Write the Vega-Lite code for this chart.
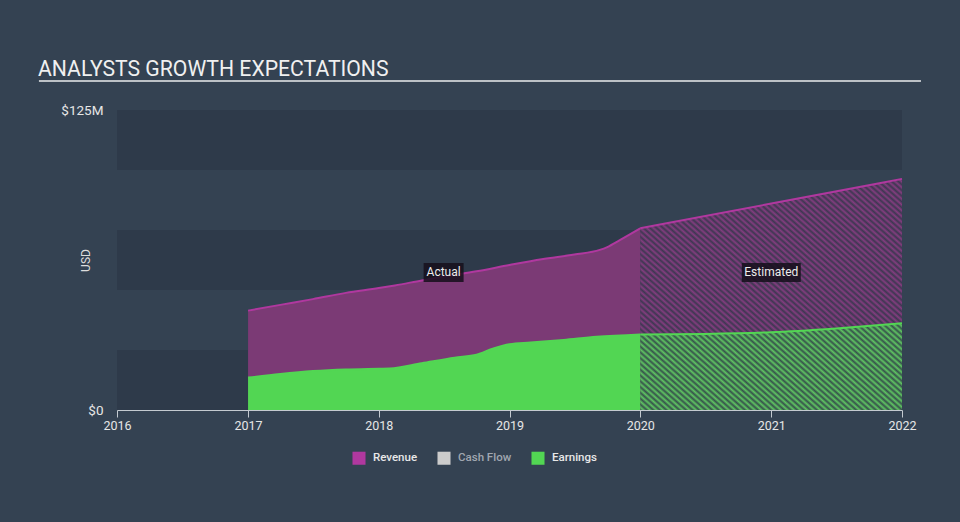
{
  "$schema": "https://vega.github.io/schema/vega-lite/v6.json",
  "autosize": {"type": "none"},
  "width": 785,
  "height": 300,
  "padding": {"left": 117, "top": 110, "right": 58, "bottom": 112},
  "background": "#344252",
  "config": {
    "view": {"stroke": null},
    "font": "Roboto"
  },
  "title": {
    "text": "ANALYSTS GROWTH EXPECTATIONS",
    "anchor": "start",
    "frame": "group",
    "dx": -79,
    "dy": 44,
    "offset": 27,
    "fontSize": 21.2,
    "fontWeight": "normal",
    "color": "#f0f0f0",
    "baseline": "alphabetic"
  },
  "datasets": {
    "bands": [
      {"lo": 0, "hi": 25},
      {"lo": 50, "hi": 75},
      {"lo": 100, "hi": 125}
    ],
    "series": [
      {"date": "2017-01-01", "value": 41.4, "series": "Revenue", "phase": "Actual"},
      {"date": "2017-04-01", "value": 43.8, "series": "Revenue", "phase": "Actual"},
      {"date": "2017-07-01", "value": 46.2, "series": "Revenue", "phase": "Actual"},
      {"date": "2017-10-01", "value": 48.8, "series": "Revenue", "phase": "Actual"},
      {"date": "2018-01-01", "value": 50.8, "series": "Revenue", "phase": "Actual"},
      {"date": "2018-02-15", "value": 51.9, "series": "Revenue", "phase": "Actual"},
      {"date": "2018-05-01", "value": 54.0, "series": "Revenue", "phase": "Actual"},
      {"date": "2018-07-01", "value": 55.6, "series": "Revenue", "phase": "Actual"},
      {"date": "2018-10-01", "value": 57.8, "series": "Revenue", "phase": "Actual"},
      {"date": "2019-01-01", "value": 60.4, "series": "Revenue", "phase": "Actual"},
      {"date": "2019-04-01", "value": 62.8, "series": "Revenue", "phase": "Actual"},
      {"date": "2019-07-01", "value": 64.8, "series": "Revenue", "phase": "Actual"},
      {"date": "2019-09-10", "value": 66.7, "series": "Revenue", "phase": "Actual"},
      {"date": "2019-10-01", "value": 67.9, "series": "Revenue", "phase": "Actual"},
      {"date": "2019-11-05", "value": 70.8, "series": "Revenue", "phase": "Actual"},
      {"date": "2020-01-01", "value": 75.7, "series": "Revenue", "phase": "Actual"},
      {"date": "2020-01-01", "value": 75.7, "series": "Revenue", "phase": "Estimated"},
      {"date": "2021-01-01", "value": 86.0, "series": "Revenue", "phase": "Estimated"},
      {"date": "2022-01-01", "value": 96.3, "series": "Revenue", "phase": "Estimated"},
      {"date": "2017-01-01", "value": 13.5, "series": "Earnings", "phase": "Actual"},
      {"date": "2017-04-01", "value": 15.0, "series": "Earnings", "phase": "Actual"},
      {"date": "2017-07-01", "value": 16.2, "series": "Earnings", "phase": "Actual"},
      {"date": "2017-10-01", "value": 16.9, "series": "Earnings", "phase": "Actual"},
      {"date": "2018-01-01", "value": 17.2, "series": "Earnings", "phase": "Actual"},
      {"date": "2018-02-01", "value": 17.3, "series": "Earnings", "phase": "Actual"},
      {"date": "2018-05-01", "value": 19.5, "series": "Earnings", "phase": "Actual"},
      {"date": "2018-08-01", "value": 21.8, "series": "Earnings", "phase": "Actual"},
      {"date": "2018-10-01", "value": 23.0, "series": "Earnings", "phase": "Actual"},
      {"date": "2018-11-15", "value": 25.5, "series": "Earnings", "phase": "Actual"},
      {"date": "2019-01-01", "value": 27.4, "series": "Earnings", "phase": "Actual"},
      {"date": "2019-03-01", "value": 28.1, "series": "Earnings", "phase": "Actual"},
      {"date": "2019-06-01", "value": 29.2, "series": "Earnings", "phase": "Actual"},
      {"date": "2019-09-01", "value": 30.5, "series": "Earnings", "phase": "Actual"},
      {"date": "2020-01-01", "value": 31.5, "series": "Earnings", "phase": "Actual"},
      {"date": "2020-01-01", "value": 31.5, "series": "Earnings", "phase": "Estimated"},
      {"date": "2020-07-01", "value": 31.7, "series": "Earnings", "phase": "Estimated"},
      {"date": "2021-01-01", "value": 32.4, "series": "Earnings", "phase": "Estimated"},
      {"date": "2021-07-01", "value": 34.0, "series": "Earnings", "phase": "Estimated"},
      {"date": "2022-01-01", "value": 36.1, "series": "Earnings", "phase": "Estimated"}
    ],
    "notes": [
      {"label": "Actual", "date": "2018-07-01", "value": 57.3},
      {"label": "Estimated", "date": "2021-01-01", "value": 57.3}
    ],
    "rule": [
      {"date": "2015-05-28", "date2": "2022-02-23", "value": 137.1}
    ]
  },
  "layer": [
    {
      "data": {"name": "bands"},
      "mark": {"type": "rect", "fill": "#2e3a4a"},
      "encoding": {
        "y": {
          "field": "lo", "type": "quantitative", "title": "USD",
          "scale": {"domain": [0, 125], "nice": false, "zero": true},
          "axis": {
            "values": [0, 125],
            "labelExpr": "datum.value == 0 ? '$0' : '$' + datum.value + 'M'",
            "labelColor": "#e6e6e6",
            "labelFontSize": 13.5,
            "labelPadding": 14,
            "ticks": false,
            "domain": false,
            "grid": false,
            "titleColor": "#dddddd",
            "titleFontSize": 12,
            "titleFontWeight": "normal",
            "titleX": -28,
            "titleY": 150,
            "titleAngle": -90,
            "titleAlign": "center",
            "titleBaseline": "alphabetic"
          }
        },
        "y2": {"field": "hi"}
      }
    },
    {
      "data": {"name": "series"},
      "transform": [{"filter": "datum.series === 'Revenue' && datum.phase === 'Actual'"}],
      "mark": {"type": "area", "interpolate": "monotone", "fill": "#7b3a75"},
      "encoding": {
        "x": {
          "field": "date", "type": "temporal", "title": null,
          "scale": {"type": "utc", "domain": [{"year": 2016, "month": 1, "date": 1, "utc": true}, {"year": 2022, "month": 1, "date": 1, "utc": true}]},
          "axis": {
            "values": [
              {"year": 2016, "month": 1, "date": 1, "utc": true},
              {"year": 2017, "month": 1, "date": 1, "utc": true},
              {"year": 2018, "month": 1, "date": 1, "utc": true},
              {"year": 2019, "month": 1, "date": 1, "utc": true},
              {"year": 2020, "month": 1, "date": 1, "utc": true},
              {"year": 2021, "month": 1, "date": 1, "utc": true},
              {"year": 2022, "month": 1, "date": 1, "utc": true}
            ],
            "format": "%Y",
            "labelColor": "#e6e6e6",
            "labelFontSize": 12.5,
            "labelPadding": 2,
            "domainColor": "#c4cad0",
            "tickColor": "#c4cad0",
            "tickSize": 7,
            "grid": false,
            "labelFlush": false
          }
        },
        "y": {"field": "value", "type": "quantitative", "title": "USD"}
      }
    },
    {
      "data": {"name": "series"},
      "transform": [{"filter": "datum.series === 'Revenue' && datum.phase === 'Estimated'"}],
      "mark": {"type": "area", "interpolate": "monotone", "fill": "#833d7f"},
      "encoding": {
        "x": {"field": "date", "type": "temporal", "title": null},
        "y": {"field": "value", "type": "quantitative", "title": "USD"}
      }
    },
    {
      "data": {"name": "series"},
      "transform": [{"filter": "datum.series === 'Earnings' && datum.phase === 'Actual'"}],
      "mark": {"type": "area", "interpolate": "monotone", "fill": "#52d653"},
      "encoding": {
        "x": {"field": "date", "type": "temporal", "title": null},
        "y": {"field": "value", "type": "quantitative", "title": "USD"}
      }
    },
    {
      "data": {"name": "series"},
      "transform": [{"filter": "datum.series === 'Earnings' && datum.phase === 'Estimated'"}],
      "mark": {"type": "area", "interpolate": "monotone", "fill": "#5fc462"},
      "encoding": {
        "x": {"field": "date", "type": "temporal", "title": null},
        "y": {"field": "value", "type": "quantitative", "title": "USD"}
      }
    },
    {
      "data": {"name": "series"},
      "transform": [{"filter": "datum.series === 'Revenue' && datum.phase === 'Estimated'"}],
      "mark": {
        "type": "area",
        "interpolate": "monotone",
        "fill": {
          "gradient": "linear",
          "x1": 0, "y1": 1, "x2": 1, "y2": 0,
          "stops": [
            {"offset": 0, "color": "rgba(44,54,70,0.8)"}, {"offset": 0.00625, "color": "rgba(44,54,70,0)"}, {"offset": 0.0125, "color": "rgba(44,54,70,0.8)"}, {"offset": 0.01875, "color": "rgba(44,54,70,0)"}, {"offset": 0.025, "color": "rgba(44,54,70,0.8)"}, {"offset": 0.03125, "color": "rgba(44,54,70,0)"}, {"offset": 0.0375, "color": "rgba(44,54,70,0.8)"}, {"offset": 0.04375, "color": "rgba(44,54,70,0)"},
            {"offset": 0.05, "color": "rgba(44,54,70,0.8)"}, {"offset": 0.05625, "color": "rgba(44,54,70,0)"}, {"offset": 0.0625, "color": "rgba(44,54,70,0.8)"}, {"offset": 0.06875, "color": "rgba(44,54,70,0)"}, {"offset": 0.075, "color": "rgba(44,54,70,0.8)"}, {"offset": 0.08125, "color": "rgba(44,54,70,0)"}, {"offset": 0.0875, "color": "rgba(44,54,70,0.8)"}, {"offset": 0.09375, "color": "rgba(44,54,70,0)"},
            {"offset": 0.1, "color": "rgba(44,54,70,0.8)"}, {"offset": 0.10625, "color": "rgba(44,54,70,0)"}, {"offset": 0.1125, "color": "rgba(44,54,70,0.8)"}, {"offset": 0.11875, "color": "rgba(44,54,70,0)"}, {"offset": 0.125, "color": "rgba(44,54,70,0.8)"}, {"offset": 0.13125, "color": "rgba(44,54,70,0)"}, {"offset": 0.1375, "color": "rgba(44,54,70,0.8)"}, {"offset": 0.14375, "color": "rgba(44,54,70,0)"},
            {"offset": 0.15, "color": "rgba(44,54,70,0.8)"}, {"offset": 0.15625, "color": "rgba(44,54,70,0)"}, {"offset": 0.1625, "color": "rgba(44,54,70,0.8)"}, {"offset": 0.16875, "color": "rgba(44,54,70,0)"}, {"offset": 0.175, "color": "rgba(44,54,70,0.8)"}, {"offset": 0.18125, "color": "rgba(44,54,70,0)"}, {"offset": 0.1875, "color": "rgba(44,54,70,0.8)"}, {"offset": 0.19375, "color": "rgba(44,54,70,0)"},
            {"offset": 0.2, "color": "rgba(44,54,70,0.8)"}, {"offset": 0.20625, "color": "rgba(44,54,70,0)"}, {"offset": 0.2125, "color": "rgba(44,54,70,0.8)"}, {"offset": 0.21875, "color": "rgba(44,54,70,0)"}, {"offset": 0.225, "color": "rgba(44,54,70,0.8)"}, {"offset": 0.23125, "color": "rgba(44,54,70,0)"}, {"offset": 0.2375, "color": "rgba(44,54,70,0.8)"}, {"offset": 0.24375, "color": "rgba(44,54,70,0)"},
            {"offset": 0.25, "color": "rgba(44,54,70,0.8)"}, {"offset": 0.25625, "color": "rgba(44,54,70,0)"}, {"offset": 0.2625, "color": "rgba(44,54,70,0.8)"}, {"offset": 0.26875, "color": "rgba(44,54,70,0)"}, {"offset": 0.275, "color": "rgba(44,54,70,0.8)"}, {"offset": 0.28125, "color": "rgba(44,54,70,0)"}, {"offset": 0.2875, "color": "rgba(44,54,70,0.8)"}, {"offset": 0.29375, "color": "rgba(44,54,70,0)"},
            {"offset": 0.3, "color": "rgba(44,54,70,0.8)"}, {"offset": 0.30625, "color": "rgba(44,54,70,0)"}, {"offset": 0.3125, "color": "rgba(44,54,70,0.8)"}, {"offset": 0.31875, "color": "rgba(44,54,70,0)"}, {"offset": 0.325, "color": "rgba(44,54,70,0.8)"}, {"offset": 0.33125, "color": "rgba(44,54,70,0)"}, {"offset": 0.3375, "color": "rgba(44,54,70,0.8)"}, {"offset": 0.34375, "color": "rgba(44,54,70,0)"},
            {"offset": 0.35, "color": "rgba(44,54,70,0.8)"}, {"offset": 0.35625, "color": "rgba(44,54,70,0)"}, {"offset": 0.3625, "color": "rgba(44,54,70,0.8)"}, {"offset": 0.36875, "color": "rgba(44,54,70,0)"}, {"offset": 0.375, "color": "rgba(44,54,70,0.8)"}, {"offset": 0.38125, "color": "rgba(44,54,70,0)"}, {"offset": 0.3875, "color": "rgba(44,54,70,0.8)"}, {"offset": 0.39375, "color": "rgba(44,54,70,0)"},
            {"offset": 0.4, "color": "rgba(44,54,70,0.8)"}, {"offset": 0.40625, "color": "rgba(44,54,70,0)"}, {"offset": 0.4125, "color": "rgba(44,54,70,0.8)"}, {"offset": 0.41875, "color": "rgba(44,54,70,0)"}, {"offset": 0.425, "color": "rgba(44,54,70,0.8)"}, {"offset": 0.43125, "color": "rgba(44,54,70,0)"}, {"offset": 0.4375, "color": "rgba(44,54,70,0.8)"}, {"offset": 0.44375, "color": "rgba(44,54,70,0)"},
            {"offset": 0.45, "color": "rgba(44,54,70,0.8)"}, {"offset": 0.45625, "color": "rgba(44,54,70,0)"}, {"offset": 0.4625, "color": "rgba(44,54,70,0.8)"}, {"offset": 0.46875, "color": "rgba(44,54,70,0)"}, {"offset": 0.475, "color": "rgba(44,54,70,0.8)"}, {"offset": 0.48125, "color": "rgba(44,54,70,0)"}, {"offset": 0.4875, "color": "rgba(44,54,70,0.8)"}, {"offset": 0.49375, "color": "rgba(44,54,70,0)"},
            {"offset": 0.5, "color": "rgba(44,54,70,0.8)"}, {"offset": 0.50625, "color": "rgba(44,54,70,0)"}, {"offset": 0.5125, "color": "rgba(44,54,70,0.8)"}, {"offset": 0.51875, "color": "rgba(44,54,70,0)"}, {"offset": 0.525, "color": "rgba(44,54,70,0.8)"}, {"offset": 0.53125, "color": "rgba(44,54,70,0)"}, {"offset": 0.5375, "color": "rgba(44,54,70,0.8)"}, {"offset": 0.54375, "color": "rgba(44,54,70,0)"},
            {"offset": 0.55, "color": "rgba(44,54,70,0.8)"}, {"offset": 0.55625, "color": "rgba(44,54,70,0)"}, {"offset": 0.5625, "color": "rgba(44,54,70,0.8)"}, {"offset": 0.56875, "color": "rgba(44,54,70,0)"}, {"offset": 0.575, "color": "rgba(44,54,70,0.8)"}, {"offset": 0.58125, "color": "rgba(44,54,70,0)"}, {"offset": 0.5875, "color": "rgba(44,54,70,0.8)"}, {"offset": 0.59375, "color": "rgba(44,54,70,0)"},
            {"offset": 0.6, "color": "rgba(44,54,70,0.8)"}, {"offset": 0.60625, "color": "rgba(44,54,70,0)"}, {"offset": 0.6125, "color": "rgba(44,54,70,0.8)"}, {"offset": 0.61875, "color": "rgba(44,54,70,0)"}, {"offset": 0.625, "color": "rgba(44,54,70,0.8)"}, {"offset": 0.63125, "color": "rgba(44,54,70,0)"}, {"offset": 0.6375, "color": "rgba(44,54,70,0.8)"}, {"offset": 0.64375, "color": "rgba(44,54,70,0)"},
            {"offset": 0.65, "color": "rgba(44,54,70,0.8)"}, {"offset": 0.65625, "color": "rgba(44,54,70,0)"}, {"offset": 0.6625, "color": "rgba(44,54,70,0.8)"}, {"offset": 0.66875, "color": "rgba(44,54,70,0)"}, {"offset": 0.675, "color": "rgba(44,54,70,0.8)"}, {"offset": 0.68125, "color": "rgba(44,54,70,0)"}, {"offset": 0.6875, "color": "rgba(44,54,70,0.8)"}, {"offset": 0.69375, "color": "rgba(44,54,70,0)"},
            {"offset": 0.7, "color": "rgba(44,54,70,0.8)"}, {"offset": 0.70625, "color": "rgba(44,54,70,0)"}, {"offset": 0.7125, "color": "rgba(44,54,70,0.8)"}, {"offset": 0.71875, "color": "rgba(44,54,70,0)"}, {"offset": 0.725, "color": "rgba(44,54,70,0.8)"}, {"offset": 0.73125, "color": "rgba(44,54,70,0)"}, {"offset": 0.7375, "color": "rgba(44,54,70,0.8)"}, {"offset": 0.74375, "color": "rgba(44,54,70,0)"},
            {"offset": 0.75, "color": "rgba(44,54,70,0.8)"}, {"offset": 0.75625, "color": "rgba(44,54,70,0)"}, {"offset": 0.7625, "color": "rgba(44,54,70,0.8)"}, {"offset": 0.76875, "color": "rgba(44,54,70,0)"}, {"offset": 0.775, "color": "rgba(44,54,70,0.8)"}, {"offset": 0.78125, "color": "rgba(44,54,70,0)"}, {"offset": 0.7875, "color": "rgba(44,54,70,0.8)"}, {"offset": 0.79375, "color": "rgba(44,54,70,0)"},
            {"offset": 0.8, "color": "rgba(44,54,70,0.8)"}, {"offset": 0.80625, "color": "rgba(44,54,70,0)"}, {"offset": 0.8125, "color": "rgba(44,54,70,0.8)"}, {"offset": 0.81875, "color": "rgba(44,54,70,0)"}, {"offset": 0.825, "color": "rgba(44,54,70,0.8)"}, {"offset": 0.83125, "color": "rgba(44,54,70,0)"}, {"offset": 0.8375, "color": "rgba(44,54,70,0.8)"}, {"offset": 0.84375, "color": "rgba(44,54,70,0)"},
            {"offset": 0.85, "color": "rgba(44,54,70,0.8)"}, {"offset": 0.85625, "color": "rgba(44,54,70,0)"}, {"offset": 0.8625, "color": "rgba(44,54,70,0.8)"}, {"offset": 0.86875, "color": "rgba(44,54,70,0)"}, {"offset": 0.875, "color": "rgba(44,54,70,0.8)"}, {"offset": 0.88125, "color": "rgba(44,54,70,0)"}, {"offset": 0.8875, "color": "rgba(44,54,70,0.8)"}, {"offset": 0.89375, "color": "rgba(44,54,70,0)"},
            {"offset": 0.9, "color": "rgba(44,54,70,0.8)"}, {"offset": 0.90625, "color": "rgba(44,54,70,0)"}, {"offset": 0.9125, "color": "rgba(44,54,70,0.8)"}, {"offset": 0.91875, "color": "rgba(44,54,70,0)"}, {"offset": 0.925, "color": "rgba(44,54,70,0.8)"}, {"offset": 0.93125, "color": "rgba(44,54,70,0)"}, {"offset": 0.9375, "color": "rgba(44,54,70,0.8)"}, {"offset": 0.94375, "color": "rgba(44,54,70,0)"},
            {"offset": 0.95, "color": "rgba(44,54,70,0.8)"}, {"offset": 0.95625, "color": "rgba(44,54,70,0)"}, {"offset": 0.9625, "color": "rgba(44,54,70,0.8)"}, {"offset": 0.96875, "color": "rgba(44,54,70,0)"}, {"offset": 0.975, "color": "rgba(44,54,70,0.8)"}, {"offset": 0.98125, "color": "rgba(44,54,70,0)"}, {"offset": 0.9875, "color": "rgba(44,54,70,0.8)"}, {"offset": 0.99375, "color": "rgba(44,54,70,0)"},
            {"offset": 1, "color": "rgba(44,54,70,0.8)"}
          ]
        }
      },
      "encoding": {
        "x": {"field": "date", "type": "temporal", "title": null},
        "y": {"field": "value", "type": "quantitative", "title": "USD"}
      }
    },
    {
      "data": {"name": "series"},
      "mark": {"type": "line", "interpolate": "monotone", "strokeWidth": 2},
      "encoding": {
        "x": {"field": "date", "type": "temporal", "title": null},
        "y": {"field": "value", "type": "quantitative", "title": "USD"},
        "detail": {"field": "phase"},
        "color": {
          "field": "series", "type": "nominal",
          "scale": {"domain": ["Revenue", "Cash Flow", "Earnings"], "range": ["#b0389f", "#cccccc", "#52d653"]},
          "legend": {
            "title": null,
            "orient": "none",
            "legendX": 235,
            "legendY": 341,
            "direction": "horizontal",
            "symbolType": "square",
            "symbolSize": 170,
            "labelFontSize": 11.5,
            "labelFontWeight": 500,
            "labelOffset": 7,
            "columnPadding": 19,
            "encode": {
              "labels": {"update": {"fill": {"signal": "datum.label === 'Cash Flow' ? '#a0a7b0' : '#e8e8e8'"}}},
              "symbols": {"update": {"fill": {"scale": "color", "field": "value"}, "strokeWidth": {"value": 0}, "opacity": {"value": 1}}}
            }
          }
        }
      }
    },
    {
      "data": {"name": "notes"},
      "transform": [{"filter": "datum.label === 'Actual'"}],
      "mark": {"type": "rect", "width": 40, "height": 19, "fill": "#150f1b", "opacity": 0.85},
      "encoding": {
        "x": {"field": "date", "type": "temporal", "title": null},
        "y": {"field": "value", "type": "quantitative", "title": "USD"}
      }
    },
    {
      "data": {"name": "notes"},
      "transform": [{"filter": "datum.label === 'Estimated'"}],
      "mark": {"type": "rect", "width": 59, "height": 19, "fill": "#150f1b", "opacity": 0.85},
      "encoding": {
        "x": {"field": "date", "type": "temporal", "title": null},
        "y": {"field": "value", "type": "quantitative", "title": "USD"}
      }
    },
    {
      "data": {"name": "notes"},
      "mark": {"type": "text", "fontSize": 12, "color": "#ececec", "align": "center", "baseline": "middle"},
      "encoding": {
        "x": {"field": "date", "type": "temporal", "title": null},
        "y": {"field": "value", "type": "quantitative", "title": "USD"},
        "text": {"field": "label"}
      }
    },
    {
      "data": {"name": "rule"},
      "mark": {"type": "rule", "color": "#bcc1c6", "strokeWidth": 2},
      "encoding": {
        "x": {"field": "date", "type": "temporal", "title": null},
        "x2": {"field": "date2"},
        "y": {"field": "value", "type": "quantitative", "title": "USD"}
      }
    }
  ]
}
